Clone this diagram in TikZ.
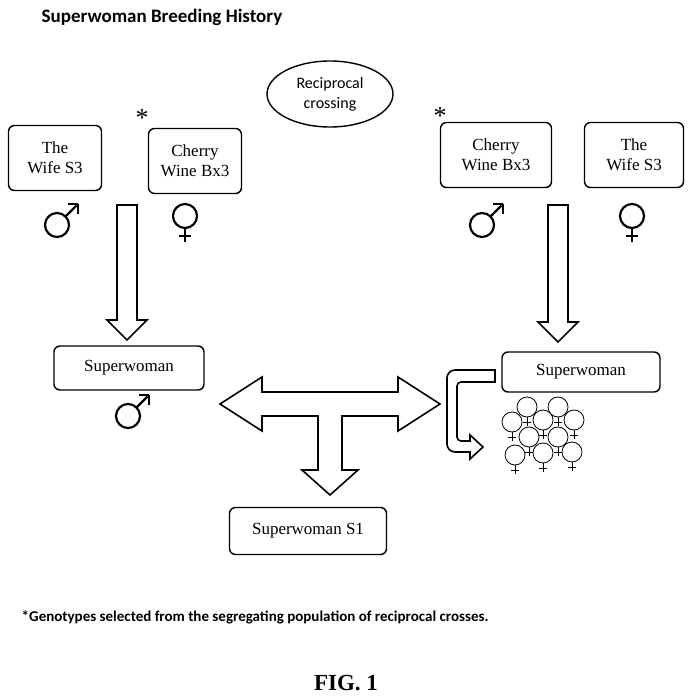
\documentclass[tikz,border=0pt]{standalone}
\usepackage{fontspec}
\setmainfont{Liberation Serif}
\newfontfamily\sansb{Carlito}
\usetikzlibrary{shapes.geometric, positioning}

\newcommand{\malesym}[1]{%
  \draw[line width=2.2pt] #1 circle (12);
  \draw[line width=2.2pt] #1 ++(8.5,-8.5) -- ++(11,-11);
  \draw[line width=2.2pt] #1 ++(21,-21) -- ++(-10,0) #1 ++(21,-21) -- ++(0,10);}
\newcommand{\femalesym}[1]{%
  \draw[line width=2.2pt] #1 circle (12);
  \draw[line width=2.2pt] #1 ++(0,12) -- ++(0,14) #1 ++(-6,20) -- ++(12,0);}
\newcommand{\smallfem}[1]{%
  \draw[fill=white] #1 circle (10);
  \draw #1 ++(0,10) -- ++(0,9) #1 ++(-4,15) -- ++(8,0);}

\begin{document}
\begin{tikzpicture}[x=1pt,y=-1pt,thick,
  box/.style={draw,line width=1.4pt,rounded corners=6pt,minimum width=93pt,minimum height=65pt,align=center,font=\fontsize{17}{20}\selectfont},
  wide box/.style={box,minimum width=152pt,minimum height=44pt},
  hollow/.style={draw,line width=1.6pt,fill=white,line join=miter}]
\useasboundingbox (0,0) rectangle (693,700);

\node[anchor=west,font=\sansb\bfseries\fontsize{19}{22}\selectfont] (title) at (38,17) {Superwoman Breeding History};

\node[draw,ellipse,line width=1.4pt,minimum width=126pt,minimum height=66pt,align=center,font=\sansb\fontsize{16}{20}\selectfont] (recip) at (330,94) {Reciprocal\\crossing};

\node[box] (wifeL)   at (55,158)  {The\\Wife S3};
\node[box] (cherryL) at (195,161) {Cherry\\Wine Bx3};
\node[box,minimum width=111pt] (cherryR) at (496,155) {Cherry\\Wine Bx3};
\node[box,minimum width=99pt] (wifeR)   at (634,155) {The\\Wife S3};
\node[font=\fontsize{26}{26}\selectfont] (astL) at (142,118) {*};
\node[font=\fontsize{26}{26}\selectfont] (astR) at (440,116) {*};

\node[wide box,minimum width=150pt] (swL) at (129,368) {Superwoman};
\node[wide box,minimum width=158pt,minimum height=40pt] (swR) at (581,372) {Superwoman};
\node[wide box,minimum width=157pt,minimum height=47pt] (swS) at (308,531) {Superwoman S1};

\malesym{(57,225)}
\femalesym{(185,216)}
\malesym{(482,225)}
\femalesym{(632,216)}
\malesym{(128,416)}

% hollow arrows
\draw[hollow] (117,205) -- (137,205) -- (137,320) -- (147,320) -- (127,340) -- (107,320) -- (117,320) -- cycle;
\draw[hollow] (548,205) -- (568,205) -- (568,322) -- (578,322) -- (558,342) -- (538,322) -- (548,322) -- cycle;
\draw[hollow] (220,404) -- (262,377) -- (262,392) -- (398,392) -- (398,377) -- (440,404)
  -- (398,431) -- (398,416) -- (342,416) -- (342,470) -- (358,470) -- (330,495) -- (302,470)
  -- (318,470) -- (318,416) -- (262,416) -- (262,431) -- cycle;
\draw[hollow] (495,370) [rounded corners=8pt] -- (447,370) -- (447,452) [sharp corners] -- (470,452)
  -- (470,459) -- (483,447) -- (470,435) -- (470,441) [rounded corners=4pt] -- (457,441) -- (457,382)
  [sharp corners] -- (495,382) -- cycle;

% female offspring
\foreach \p in {(527,407),(558,407),(512,422),(543,420),(574,420),(529,437),(558,437),(515,455),(543,453),(572,452)}
  {\smallfem{\p}}

\node[anchor=west,font=\sansb\bfseries\fontsize{15}{18}\selectfont] (note) at (18,617) {*Genotypes selected from the segregating population of reciprocal crosses.};
\node[font=\bfseries\fontsize{23}{26}\selectfont] (fig) at (346,683) {FIG. 1};
\end{tikzpicture}
\end{document}
